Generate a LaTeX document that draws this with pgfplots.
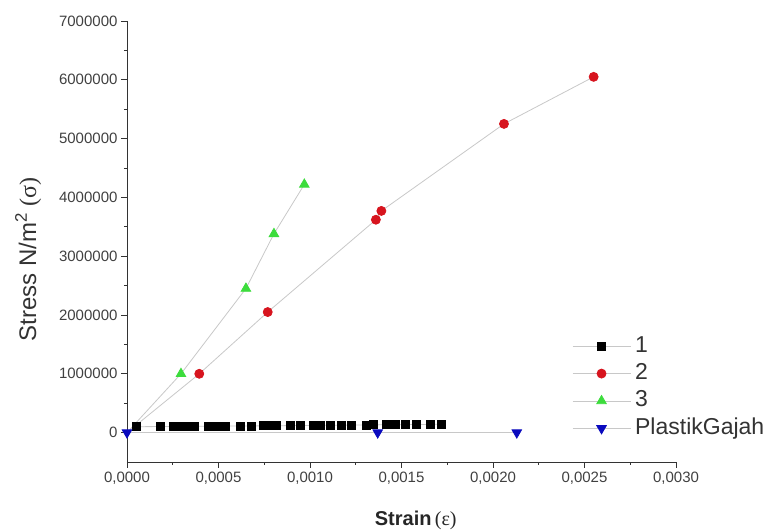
\documentclass[border=0pt]{standalone}
\usepackage{fontspec}
\setmainfont{Liberation Sans}
\newfontfamily\serif{Liberation Serif}
\usepackage{pgfplots}
\pgfplotsset{compat=1.18}
\definecolor{lgray}{RGB}{200,200,200}
\definecolor{sred}{RGB}{215,20,30}
\definecolor{sgreen}{RGB}{60,220,60}
\definecolor{sblue}{RGB}{10,10,190}
\begin{document}
\begin{tikzpicture}
\begin{axis}[
  scale only axis, width=549pt, height=441pt,
  xmin=0, xmax=0.003, ymin=-500000, ymax=7000000,
  axis x line*=bottom, axis y line*=left,
  axis line style={black!80, line width=0.8pt},
  clip=false,
  xtick={0,0.0005,0.001,0.0015,0.002,0.0025,0.003},
  ytick={0,1000000,2000000,3000000,4000000,5000000,6000000,7000000},
  minor x tick num=1, minor y tick num=1,
  tick align=outside,
  major tick length=6pt, minor tick length=3pt,
  tick style={black!80, line width=0.8pt},
  scaled x ticks=false, scaled y ticks=false,
  /pgf/number format/assume math mode=true,
  x tick label style={/pgf/number format/fixed, /pgf/number format/fixed zerofill, /pgf/number format/precision=4, /pgf/number format/use comma},
  y tick label style={/pgf/number format/fixed, /pgf/number format/precision=0, /pgf/number format/1000 sep={}},
  tick label style={font=\fontsize{15}{18}\selectfont, text=black!75},
  xlabel={\textbf{Strain}\,{\serif(ε)}},
  ylabel={Stress N/m\textsuperscript{2} {\serif(σ)}},
  every axis x label/.style={at={(axis description cs:0.526,-0.132)}, anchor=center, font=\fontsize{20}{22}\selectfont, text=black!85},
  every axis y label/.style={at={(axis description cs:-0.180,0.46)}, anchor=center, rotate=90, font=\fontsize{24}{26}\selectfont, text=black!80},
  legend image code/.code={\draw[mark repeat=2,mark phase=2,#1] plot coordinates {(0pt,0pt) (29pt,0pt) (58pt,0pt)};},
  legend style={at={(0.805,0.293)}, anchor=north west, draw=none, fill=none,
    font=\fontsize{23}{25}\selectfont, text=black!80,
    nodes={inner sep=1.2pt, text height=16pt, text depth=4pt},
    row sep=5pt, column sep=3pt},
  legend cell align=left,
]
\coordinate (O) at (rel axis cs:0,0);
% connecting lines from origin
\addplot[lgray, line width=0.8pt, forget plot] coordinates {(0,0) (0.000395,1000000)};
\addplot[lgray, line width=0.8pt, forget plot] coordinates {(0,0) (0.000295,1000000)};

\addplot[color=lgray, line width=0.8pt, mark=square*, mark size=4pt, mark options={draw=black, fill=black}] coordinates {
(0.000049,100000) (0.000184,103000) (0.000253,104000) (0.00029,105000) (0.000326,106000)
(0.000366,107000) (0.000444,108000) (0.00049,109000) (0.000536,110000) (0.000617,112000)
(0.000678,113000) (0.000745,115000) (0.000781,116000) (0.000818,117000) (0.000891,119000)
(0.000945,120000) (0.001018,122000) (0.001055,123000) (0.001109,125000) (0.001173,126000)
(0.001228,128000) (0.00131,130000) (0.001346,131000) (0.001419,133000) (0.001464,134000)
(0.001519,136000) (0.001583,138000) (0.001656,140000) (0.00172,142000)
};
\addlegendentry{1}
\addplot[color=lgray, line width=0.8pt, mark=*, mark size=4.5pt, mark options={draw=sred, fill=sred}] coordinates {
(0.000395,1000000) (0.000769,2050000) (0.00136,3620000) (0.00139,3770000) (0.00206,5250000) (0.00255,6050000)
};
\addlegendentry{2}
\addplot[color=lgray, line width=0.8pt, mark=triangle*, mark size=5.5pt, mark options={draw=sgreen, fill=sgreen}] coordinates {
(0.000295,1000000) (0.00065,2450000) (0.000803,3380000) (0.000969,4220000)
};
\addlegendentry{3}
\addplot[color=lgray, line width=0.8pt, mark=triangle*, mark size=5.5pt, mark options={draw=sblue, fill=sblue, rotate=180}] coordinates {
(0,0) (0.00137,0) (0.00213,0)
};
\addlegendentry{PlastikGajah}
\end{axis}
\pgfresetboundingbox
\path[use as bounding box] (O) ++(-127pt,-70pt) rectangle ++(766pt,532pt);
\end{tikzpicture}
\end{document}
